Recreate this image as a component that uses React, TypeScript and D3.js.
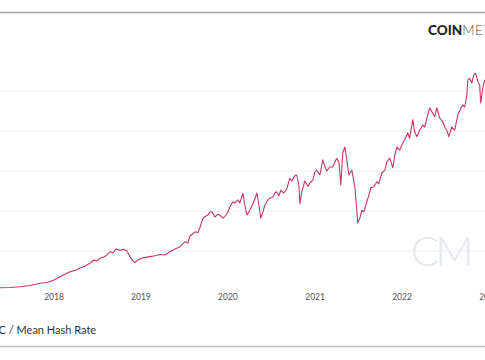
import React from "react";
import * as d3 from "d3";

const dates: string[] = [
  "2017-05-19","2017-06-30","2017-08-11","2017-09-22","2017-11-03","2017-12-03","2018-01-01","2018-01-26","2018-02-16","2018-03-09",
  "2018-03-30","2018-04-20","2018-05-11","2018-06-01","2018-06-18","2018-06-30","2018-07-13","2018-08-03","2018-08-24","2018-09-06",
  "2018-09-18","2018-10-05","2018-10-22","2018-11-03","2018-11-16","2018-11-28","2018-12-07","2018-12-19","2019-01-01","2019-01-18",
  "2019-02-08","2019-03-01","2019-03-22","2019-04-12","2019-05-03","2019-05-24","2019-06-14","2019-07-05","2019-07-17","2019-07-26",
  "2019-08-16","2019-08-28","2019-09-05","2019-09-18","2019-10-01","2019-10-09","2019-10-17","2019-10-26","2019-11-07","2019-11-20",
  "2019-11-28","2019-12-11","2019-12-19","2020-01-01","2020-01-09","2020-01-22","2020-01-30","2020-02-12","2020-02-20","2020-03-04",
  "2020-03-12","2020-03-21","2020-04-02","2020-04-15","2020-05-02","2020-05-10","2020-05-18","2020-05-27","2020-06-04","2020-06-17",
  "2020-06-25","2020-07-08","2020-07-16","2020-07-24","2020-08-02","2020-08-10","2020-08-23","2020-09-04","2020-09-17","2020-09-25",
  "2020-10-08","2020-10-16","2020-10-25","2020-10-29","2020-11-06","2020-11-19","2020-12-02","2020-12-10","2020-12-23","2020-12-31",
  "2021-01-08","2021-01-21","2021-02-02","2021-02-11","2021-02-19","2021-03-04","2021-03-16","2021-03-25","2021-04-02","2021-04-11",
  "2021-04-19","2021-04-27","2021-05-06","2021-05-14","2021-05-23","2021-06-04","2021-06-17","2021-06-25","2021-06-29","2021-07-08",
  "2021-07-16","2021-07-25","2021-08-06","2021-08-14","2021-08-23","2021-09-04","2021-09-17","2021-09-25","2021-10-08","2021-10-21",
  "2021-10-29","2021-11-11","2021-11-23","2021-12-02","2021-12-10","2021-12-22","2021-12-31","2022-01-12","2022-01-25","2022-02-02",
  "2022-02-15","2022-02-23","2022-03-04","2022-03-16","2022-03-29","2022-04-06","2022-04-19","2022-04-27","2022-05-06","2022-05-18",
  "2022-05-27","2022-06-08","2022-06-21","2022-06-29","2022-07-08","2022-07-16","2022-07-29","2022-08-10","2022-08-23","2022-09-04",
  "2022-09-13","2022-09-21","2022-09-30","2022-10-04","2022-10-12","2022-10-21","2022-10-29","2022-11-06","2022-11-15","2022-11-23",
  "2022-11-27","2022-12-06","2022-12-14",
];

const hashRate: number[] = [
  4.1,4.4,5.4,6.9,9.6,10.6,13.8,17.9,21,24,
  25.6,28.8,31,35,38.8,37.5,41,43,49,47.5,
  52.5,51,52,50,43,37.5,35.4,38.8,40.6,42,
  43,44,45.6,45,49,52.5,55.4,61.6,60,68.8,
  74,73,78.8,91,93.8,95,98.8,99,92.5,96,
  95,91,93,98.8,105,111.6,110,113.8,110,122,
  107.5,95,101,108.8,122.5,107.5,91,99,107.5,113.8,
  116,117.5,122.5,124,119,126,122.5,127.5,141,137.5,
  144,145,132.5,109,124,137.5,131,135,139,149,
  151,145,164,156,150,155,155,161,166,161,
  132.5,172.5,180,164,145,151,130,101,85,91,
  101,99,111.6,119,129,130,136.6,134,147.5,151,
  161.6,166,154,170,180,176,182.5,189,197.5,191,
  214,199,193,201,207.5,205,220,229,224,218,
  229,216,211.6,205,201,193,205,201,220,228,
  232.5,230,245,264,266,260,270,272,262,257.5,
  235,254,264,
];

const yTicks: number[] = [50, 100, 150, 200, 250];
const yearTicks: string[] = ["2018", "2019", "2020", "2021", "2022", "2023"];
const seriesLabel = "BTC / Mean Hash Rate";
const brandBold = "COIN";
const brandLight = "METRICS";
const watermark = "CM";

const W = 485;
const H = 360;

export default function App() {
  const parse = d3.timeParse("%Y-%m-%d");
  const data = dates.map((d, i) => ({ date: parse(d) as Date, value: hashRate[i] }));

  const x = d3
    .scaleTime()
    .domain([new Date(2018, 0, 1), new Date(2023, 0, 1)])
    .range([54, 489]);
  const y = d3.scaleLinear().domain([0, 300]).range([291, 51]);

  const line = d3
    .line<{ date: Date; value: number }>()
    .x((d) => x(d.date))
    .y((d) => y(d.value));

  const font = "Lato, 'Open Sans', sans-serif";

  return (
    <svg
      width={W}
      height={H}
      style={{ position: "absolute", left: 0, top: 0, background: "#fff", overflow: "hidden" }}
      fontFamily={font}
    >
      <rect x={0} y={0} width={W} height={H} fill="#fff" />
      <line x1={0} x2={W} y1={12.5} y2={12.5} stroke="#a8a8a8" strokeWidth={1.5} />
      <line x1={0} x2={W} y1={346.5} y2={346.5} stroke="#bdbdbd" strokeWidth={1.5} />

      {yTicks.map((t) => (
        <line key={t} x1={0} x2={W} y1={y(t)} y2={y(t)} stroke="#efefef" strokeWidth={1} />
      ))}

      <text
        x={440}
        y={266}
        textAnchor="middle"
        fontSize={42}
        fontWeight={300}
        fill="#e6e8f0"
        letterSpacing={-4}
      >
        {watermark}
      </text>

      <text x={428} y={35} fontSize={13.5} fill="#222">
        <tspan fontWeight={900}>{brandBold}</tspan>
        <tspan fontWeight={300} fill="#555" letterSpacing={0.5}>{brandLight}</tspan>
      </text>

      <path d={line(data) || ""} fill="none" stroke="#c73663" strokeWidth={1.1} strokeLinejoin="round" />

      {yearTicks.map((t) => (
        <text key={t} x={x(new Date(+t, 0, 1))} y={300} textAnchor="middle" fontSize={8.5} fill="#555">
          {t}
        </text>
      ))}

      <text x={-14.5} y={334} fontSize={11} fill="#333">
        {seriesLabel}
      </text>
    </svg>
  );
}
